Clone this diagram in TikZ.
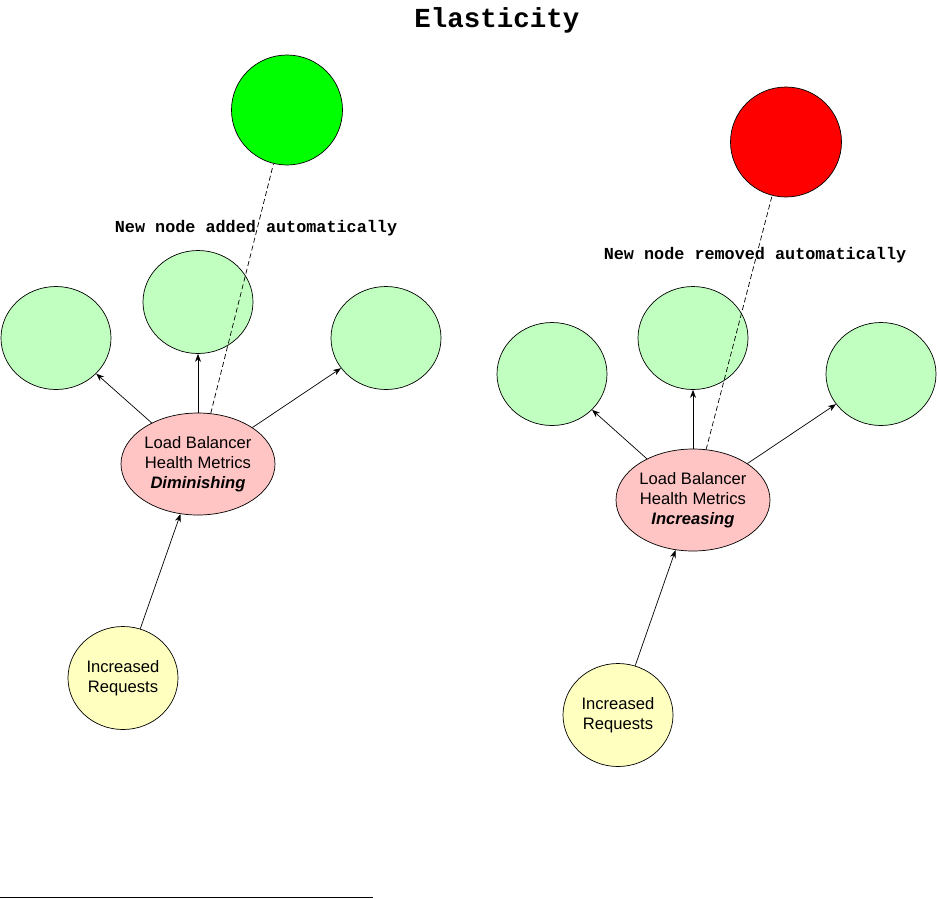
\documentclass[tikz,border=0pt]{standalone}
\usepackage{fontspec}
\setmainfont{Liberation Sans}
\newfontfamily\monofont{Liberation Mono}
\usetikzlibrary{arrows.meta,shapes.geometric}

\definecolor{newgreen}{HTML}{00FF00}
\definecolor{gonered}{HTML}{FF0000}
\definecolor{poolgreen}{HTML}{C0FFC0}
\definecolor{lbpink}{HTML}{FFC4C4}
\definecolor{reqyellow}{HTML}{FFFFC0}

\begin{document}
\begin{tikzpicture}[x=1pt,y=-1pt,->,>={Stealth[length=8pt,width=6pt]},line width=0.7pt,
  font=\fontsize{16.6}{20}\selectfont,
  pool node/.style={ellipse,draw,fill=poolgreen,inner sep=0pt,
  minimum width=110pt,minimum height=103pt},
  big node/.style={ellipse,draw,inner sep=0pt,
  minimum width=111pt,minimum height=110pt},
  lb node/.style={ellipse,draw,fill=lbpink,inner sep=0pt,align=center,
  minimum width=154pt,minimum height=102pt},
  req node/.style={ellipse,draw,fill=reqyellow,inner sep=0pt,align=center,
  minimum width=110pt,minimum height=103pt},
  note/.style={font=\monofont\bfseries\fontsize{16.8}{20}\selectfont}]

  \useasboundingbox (0,0) rectangle (937,898);

  \node[font=\monofont\bfseries\fontsize{27.5}{30}\selectfont] (Title) at (497,20) {Elasticity};

  % left group: scaling out
  \node[big node,fill=newgreen] (AddedNode) at (287,110) {};
  \node[note] (AddedNote) at (256,228) {New node added automatically};
  \node[pool node] (PoolLeftA) at (56,338) {};
  \node[pool node] (PoolLeftB) at (198,302) {};
  \node[pool node] (PoolLeftC) at (386,338) {};
  \node[lb node] (BalancerLeft) at (198,464)
    {Load Balancer\\Health Metrics\\\textbf{\textit{Diminishing}}};
  \node[req node] (RequestsLeft) at (123,678) {Increased\\Requests};

  % right group: scaling in
  \node[big node,fill=gonered] (RemovedNode) at (786,142) {};
  \node[note] (RemovedNote) at (755,255) {New node removed automatically};
  \node[pool node] (PoolRightA) at (552,374) {};
  \node[pool node] (PoolRightB) at (693,338) {};
  \node[pool node] (PoolRightC) at (881,374) {};
  \node[lb node] (BalancerRight) at (693,500)
    {Load Balancer\\Health Metrics\\\textbf{\textit{Increasing}}};
  \node[req node] (RequestsRight) at (618,715) {Increased\\Requests};

  \path
    (BalancerLeft) edge (PoolLeftA)
        edge (PoolLeftB)
        edge (PoolLeftC)
        edge [-,dash pattern=on 5pt off 3pt] (AddedNode)
    (RequestsLeft) edge (BalancerLeft)

    (BalancerRight) edge (PoolRightA)
        edge (PoolRightB)
        edge (PoolRightC)
        edge [-,dash pattern=on 5pt off 3pt] (RemovedNode)
    (RequestsRight) edge (BalancerRight);

  \draw[-] (0,897) -- (373,897);
\end{tikzpicture}
\end{document}
